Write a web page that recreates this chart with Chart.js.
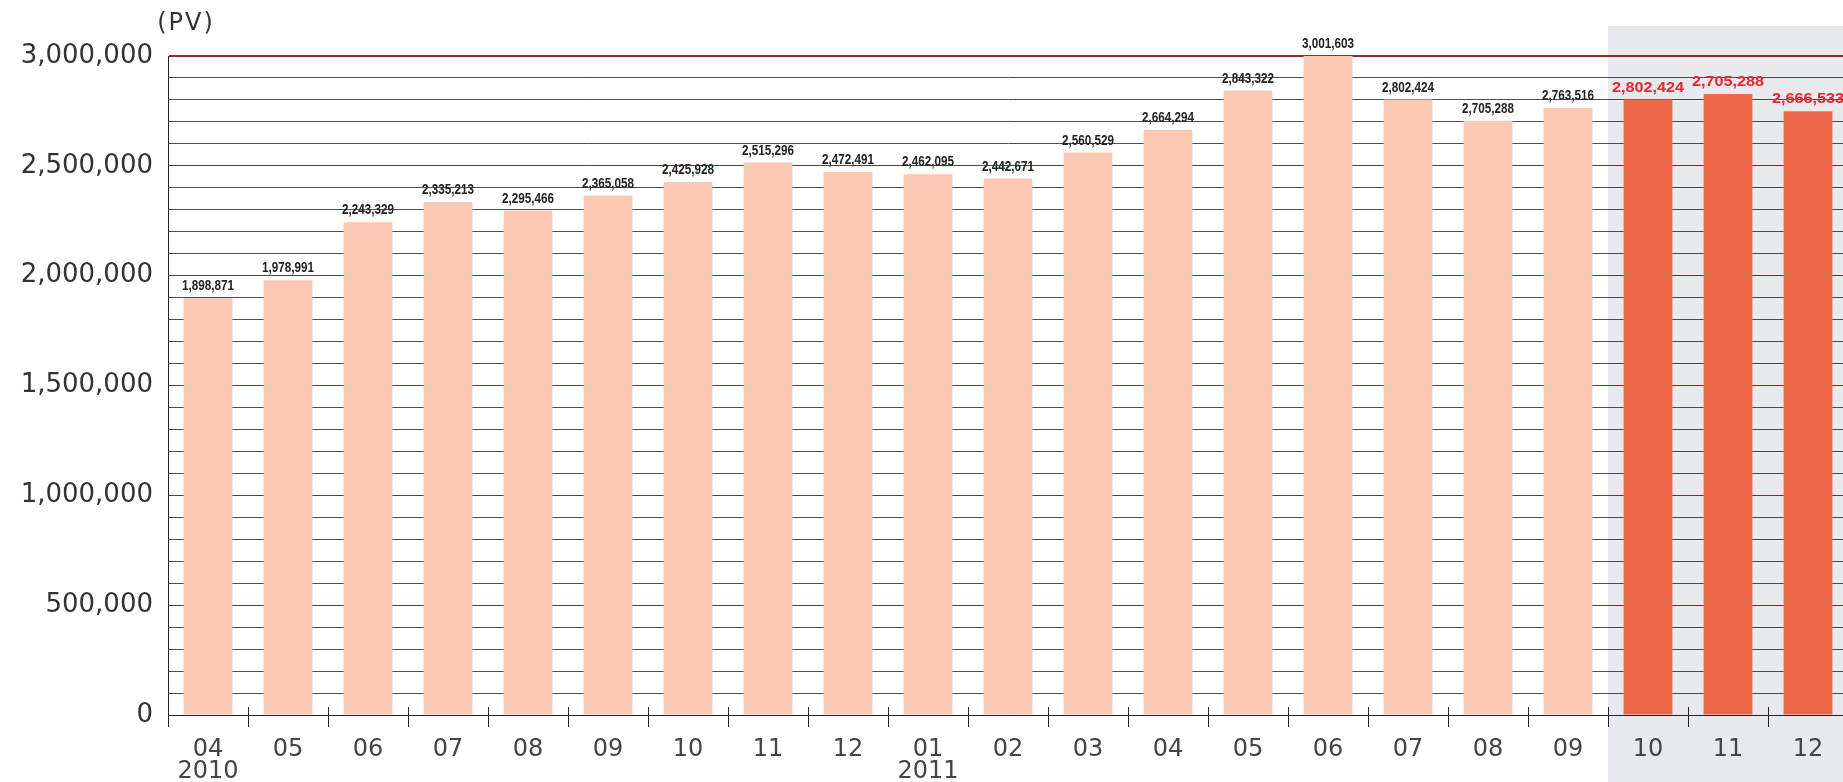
<!DOCTYPE html>
<html>
<head>
<meta charset="utf-8">
<script src="https://cdn.jsdelivr.net/npm/chart.js@4"></script>
<style>
  html, body { margin: 0; padding: 0; background: #fff; overflow: hidden; }
  #wrap { width: 1848px; height: 782px; position: relative; }
</style>
</head>
<body>
<div id="wrap"><canvas id="pv-chart"></canvas></div>
<script>
// month ticks, year shown under the first month of each year
const months = ["04","05","06","07","08","09","10","11","12","01","02","03","04","05","06","07","08","09","10","11","12"];
const years  = ["2010","","","","","","","","","2011","","","","","","","","","","",""];

// bar heights (PV)
const pvValues = [1898871, 1978991, 2243329, 2335213, 2295466, 2365058, 2425928, 2515296, 2472491,
  2462095, 2442671, 2560529, 2664294, 2843322, 3001603, 2802424, 2705288, 2763516,
  2802424, 2827000, 2749000];

// text printed above each bar (last three as printed in the source)
const pvLabels = ["1,898,871","1,978,991","2,243,329","2,335,213","2,295,466","2,365,058","2,425,928","2,515,296","2,472,491",
  "2,462,095","2,442,671","2,560,529","2,664,294","2,843,322","3,001,603","2,802,424","2,705,288","2,763,516",
  "2,802,424","2,705,288","2,666,533"];

const yMin = 0;
const yMax = 3000000;
const yStep = 100000;
const highlightFrom = 18; // 2011/10 onwards

// colours
let barColor = "#fbc8b3";
let barHighlight = "#f0684a";
let shadeColor = "#e8e9ed";
let labelColor = "#222222";
let labelHighlight = "#ec2330";
let gridMajor = "#8a2b2b";
let gridMinor = "#4d4d4d";
let tickFont = "'DejaVu Sans', sans-serif";

const shadePlugin = {
  id: "shade",
  beforeDraw(chart) {
    const x = chart.scales.x;
    const half = (x.getPixelForValue(1) - x.getPixelForValue(0)) / 2;
    const left = x.getPixelForValue(highlightFrom) - half;
    const c = chart.ctx;
    c.save();
    c.fillStyle = shadeColor;
    c.fillRect(left, chart.chartArea.top - 30, chart.width - left, chart.height);
    c.restore();
  }
};

const extrasPlugin = {
  id: "extras",
  afterDraw(chart) {
    const c = chart.ctx;
    const x = chart.scales.x;
    const area = chart.chartArea;
    const half = (x.getPixelForValue(1) - x.getPixelForValue(0)) / 2;
    c.save();
    // tick marks at the category boundaries
    c.strokeStyle = "#222";
    c.lineWidth = 1;
    for (let i = 0; i <= months.length; i++) {
      const px = Math.round(x.getPixelForValue(i) - half) + 0.5;
      c.beginPath();
      c.moveTo(px, area.bottom - 8);
      c.lineTo(px, area.bottom + 12);
      c.stroke();
    }
    // unit
    c.fillStyle = "#333";
    c.font = "24px " + tickFont;
    c.letterSpacing = "2px";
    c.textAlign = "center";
    c.textBaseline = "middle";
    c.fillText("(PV)", area.left + 18, area.top - 32);
    c.letterSpacing = "0px";

    // value labels above the bars
    const meta = chart.getDatasetMeta(0);
    meta.data.forEach((bar, i) => {
      const hi = i >= highlightFrom;
      c.save();
      c.translate(bar.x, Math.max(bar.y, area.top) - 12);
      c.scale(hi ? 1.08 : 0.78, 1);
      c.font = "bold 15px 'Liberation Sans', Arial, sans-serif";
      c.fillStyle = hi ? labelHighlight : labelColor;
      c.textAlign = "center";
      c.textBaseline = "middle";
      c.fillText(pvLabels[i], 0, 0);
      c.restore();
    });
    c.restore();
  }
};

const data = {
  labels: months.map((m, i) => years[i] ? [m, years[i]] : m),
  datasets: [{
    label: "PV",
    data: pvValues,
    backgroundColor: pvValues.map((v, i) => i >= highlightFrom ? barHighlight : barColor),
    borderWidth: 0,
    categoryPercentage: 1.0,
    barPercentage: 0.61,
  }]
};

const options = {
  responsive: true,
  maintainAspectRatio: false,
  animation: false,
  layout: { padding: { top: 56, right: 0, bottom: 0, left: 0 } },
  plugins: {
    legend: { display: false },
    tooltip: { enabled: false },
  },
  scales: {
    x: {
      grid: { display: false },
      border: { display: true, color: "#222", width: 1 },
      ticks: {
        color: "#444",
        padding: 15,
        maxRotation: 0,
        autoSkip: false,
        font: { family: tickFont, size: 24, lineHeight: 0.95 },
      },
      afterFit: (scale) => { scale.height = 67; },
    },
    y: {
      min: yMin,
      max: yMax,
      border: { display: true, color: "#222", width: 1 },
      grid: {
        drawTicks: false,
        color: (ctx) => (ctx.tick.value % 500000 === 0 && ctx.tick.value !== 0) ? gridMajor : gridMinor,
        lineWidth: (ctx) => ctx.tick.value === yMax ? 2 : 1,
      },
      ticks: {
        stepSize: yStep,
        autoSkip: false,
        padding: 15,
        color: "#333",
        font: { family: tickFont, size: 26 },
        callback: (v) => v % 500000 === 0 ? v.toLocaleString("en-US") : "",
      },
      afterFit: (scale) => { scale.width = 168; },
    },
  },
};

new Chart(document.getElementById("pv-chart").getContext("2d"), {
  type: "bar",
  data: data,
  options: options,
  plugins: [shadePlugin, extrasPlugin],
});
</script>
</body>
</html>
